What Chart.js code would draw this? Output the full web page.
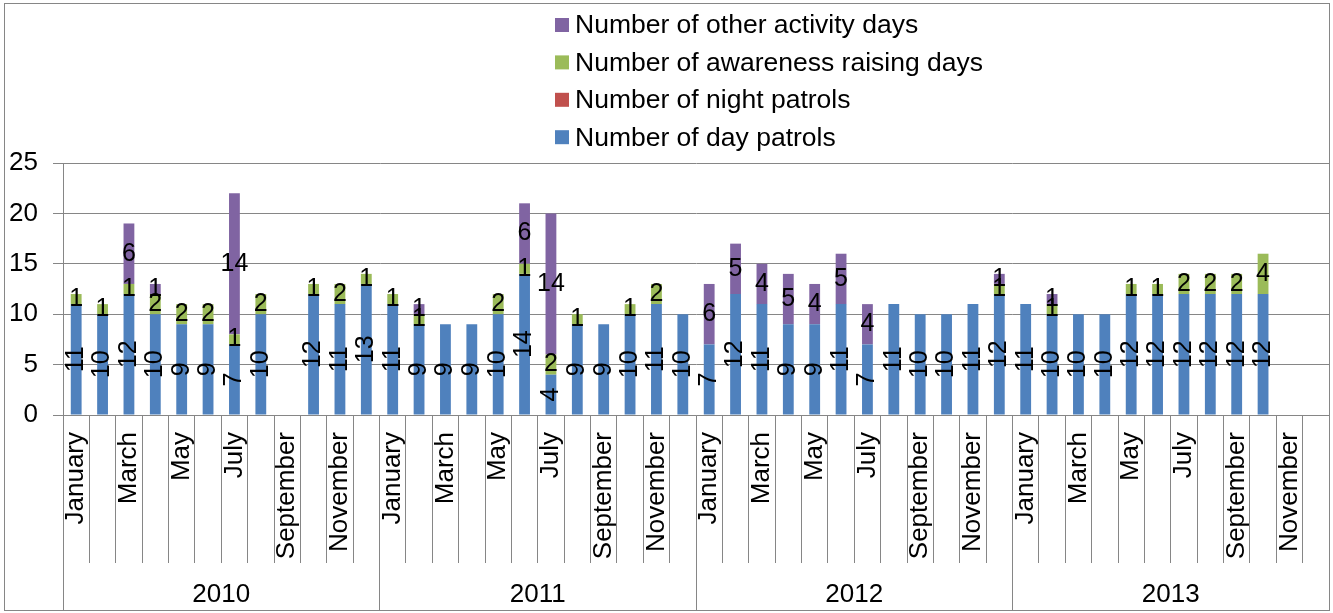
<!DOCTYPE html>
<html>
<head>
<meta charset="utf-8">
<title>Patrols and activity days per month, 2010–2013</title>
<script src="https://cdn.jsdelivr.net/npm/chart.js@4"></script>
<style>
  html, body { margin: 0; padding: 0; background: #ffffff; }
  #wrap { position: relative; width: 1333px; height: 613px; }
</style>
</head>
<body>
<div id="wrap"><canvas id="chart" width="1333" height="613"></canvas></div>
<script>
// Category labels
const years = ['2010', '2011', '2012', '2013'];
const monthNames = ['January', 'February', 'March', 'April', 'May', 'June',
  'July', 'August', 'September', 'October', 'November', 'December'];

// Monthly values, January 2010 to December 2013 (null = no report)
const dayPatrols = [
  11, 10, 12, 10, 9, 9, 7, 10, null, 12, 11, 13,
  11, 9, 9, 9, 10, 14, 4, 9, 9, 10, 11, 10,
  7, 12, 11, 9, 9, 11, 7, 11, 10, 10, 11, 12,
  11, 10, 10, 10, 12, 12, 12, 12, 12, 12, null, null
];
const nightPatrols = [
  0, 0, 0, 0, 0, 0, 0, 0, null, 0, 0, 0,
  0, 0, 0, 0, 0, 0, 0, 0, 0, 0, 0, 0,
  0, 0, 0, 0, 0, 0, 0, 0, 0, 0, 0, 0,
  0, 0, 0, 0, 0, 0, 0, 0, 0, 0, null, null
];
const awarenessDays = [
  1, 1, 1, 2, 2, 2, 1, 2, null, 1, 2, 1,
  1, 1, 0, 0, 2, 1, 2, 1, 0, 1, 2, 0,
  0, 0, 0, 0, 0, 0, 0, 0, 0, 0, 0, 1,
  0, 1, 0, 0, 1, 1, 2, 2, 2, 4, null, null
];
const otherDays = [
  0, 0, 6, 1, 0, 0, 14, 0, null, 0, 0, 0,
  0, 1, 0, 0, 0, 6, 14, 0, 0, 0, 0, 0,
  6, 5, 4, 5, 4, 5, 4, 0, 0, 0, 0, 1,
  0, 1, 0, 0, 0, 0, 0, 0, 0, 0, null, null
];

// Series names
const seriesNames = [
  'Number of day patrols',
  'Number of night patrols',
  'Number of awareness raising days',
  'Number of other activity days'
];

// Value axis ticks
const yTicks = [0, 5, 10, 15, 20, 25];

const months = [];
years.forEach(() => monthNames.forEach(m => months.push(m)));

const FONT = '"Liberation Sans", Arial, sans-serif';
const GRID = '#868686';

// Segment value labels: day patrols read bottom-to-top, the rest horizontal
const segmentLabels = {
  id: 'segmentLabels',
  afterDatasetsDraw(chart) {
    const ctx = chart.ctx;
    ctx.save();
    ctx.fillStyle = '#000000';
    ctx.font = '25px ' + FONT;
    ctx.textAlign = 'center';
    ctx.textBaseline = 'middle';
    chart.data.datasets.forEach((ds, di) => {
      const meta = chart.getDatasetMeta(di);
      meta.data.forEach((bar, i) => {
        const v = ds.data[i];
        if (!v) return;
        const p = bar.getProps(['x', 'y', 'base'], true);
        const cy = (p.y + p.base) / 2;
        if (ds.rotateLabels) {
          ctx.save();
          ctx.translate(p.x, cy);
          ctx.rotate(-Math.PI / 2);
          ctx.fillText(String(v), 0, 0);
          ctx.restore();
        } else {
          ctx.fillText(String(v), p.x, cy);
        }
      });
    });
    ctx.restore();
  }
};

// Stacked legend list (top series first) and the outer frame
const legendAndFrame = {
  id: 'legendAndFrame',
  afterDraw(chart) {
    const ctx = chart.ctx;
    ctx.save();
    const items = chart.data.datasets.slice().reverse();
    ctx.font = '26.5px ' + FONT;
    ctx.textAlign = 'left';
    ctx.textBaseline = 'middle';
    items.forEach((ds, k) => {
      const cy = 25 + k * 37.4;
      ctx.fillStyle = ds.backgroundColor;
      ctx.fillRect(555, cy - 7, 14, 14);
      ctx.fillStyle = '#000000';
      ctx.fillText(ds.label, 575, cy + 1);
    });
    ctx.strokeStyle = GRID;
    ctx.lineWidth = 1;
    ctx.strokeRect(4.5, 3.5, 1325, 607);
    ctx.restore();
  }
};

const chart = new Chart(document.getElementById('chart'), {
  type: 'bar',
  data: {
    labels: months,
    datasets: [
      { label: seriesNames[0], data: dayPatrols, backgroundColor: '#4F81BD', rotateLabels: true },
      { label: seriesNames[1], data: nightPatrols, backgroundColor: '#C0504D' },
      { label: seriesNames[2], data: awarenessDays, backgroundColor: '#9BBB59' },
      { label: seriesNames[3], data: otherDays, backgroundColor: '#8064A2' }
    ]
  },
  options: {
    responsive: false,
    animation: false,
    devicePixelRatio: 1,
    layout: { padding: { top: 163, left: 0, right: 4, bottom: 2 } },
    datasets: { bar: { categoryPercentage: 1, barPercentage: 0.41 } },
    plugins: {
      legend: { display: false },
      tooltip: { enabled: false }
    },
    scales: {
      x: {
        type: 'category',
        stacked: true,
        position: 'bottom',
        weight: 0,
        offset: true,
        afterFit(scale) { scale.height = 148; },
        grid: {
          offset: true,
          drawOnChartArea: false,
          drawTicks: true,
          tickLength: 148,
          color: GRID,
          lineWidth: 1
        },
        border: { display: true, color: GRID, width: 1 },
        ticks: {
          autoSkip: false,
          minRotation: 90,
          maxRotation: 90,
          padding: -131,
          color: '#000000',
          font: { family: FONT, size: 26 },
          callback(value, index) {
            return index % 2 === 0 ? months[index] : '';
          }
        }
      },
      yearAxis: {
        type: 'category',
        axis: 'x',
        position: 'bottom',
        weight: 1,
        labels: years,
        offset: true,
        afterFit(scale) { scale.height = 48; },
        grid: {
          offset: true,
          drawOnChartArea: false,
          drawTicks: true,
          tickLength: 48,
          color: GRID,
          lineWidth: 1
        },
        border: { display: false },
        ticks: {
          autoSkip: false,
          maxRotation: 0,
          minRotation: 0,
          padding: -32,
          color: '#000000',
          font: { family: FONT, size: 26 }
        }
      },
      y: {
        stacked: true,
        min: 0,
        max: 25,
        afterFit(scale) { scale.width = 63; },
        afterBuildTicks(scale) { scale.ticks = yTicks.map(v => ({ value: v })); },
        grid: {
          color: GRID,
          lineWidth: 1,
          drawTicks: true,
          tickLength: 10
        },
        border: { display: true, color: GRID, width: 1 },
        ticks: {
          padding: 15,
          color: '#000000',
          font: { family: FONT, size: 26 }
        }
      }
    }
  },
  plugins: [segmentLabels, legendAndFrame]
});
</script>
</body>
</html>
